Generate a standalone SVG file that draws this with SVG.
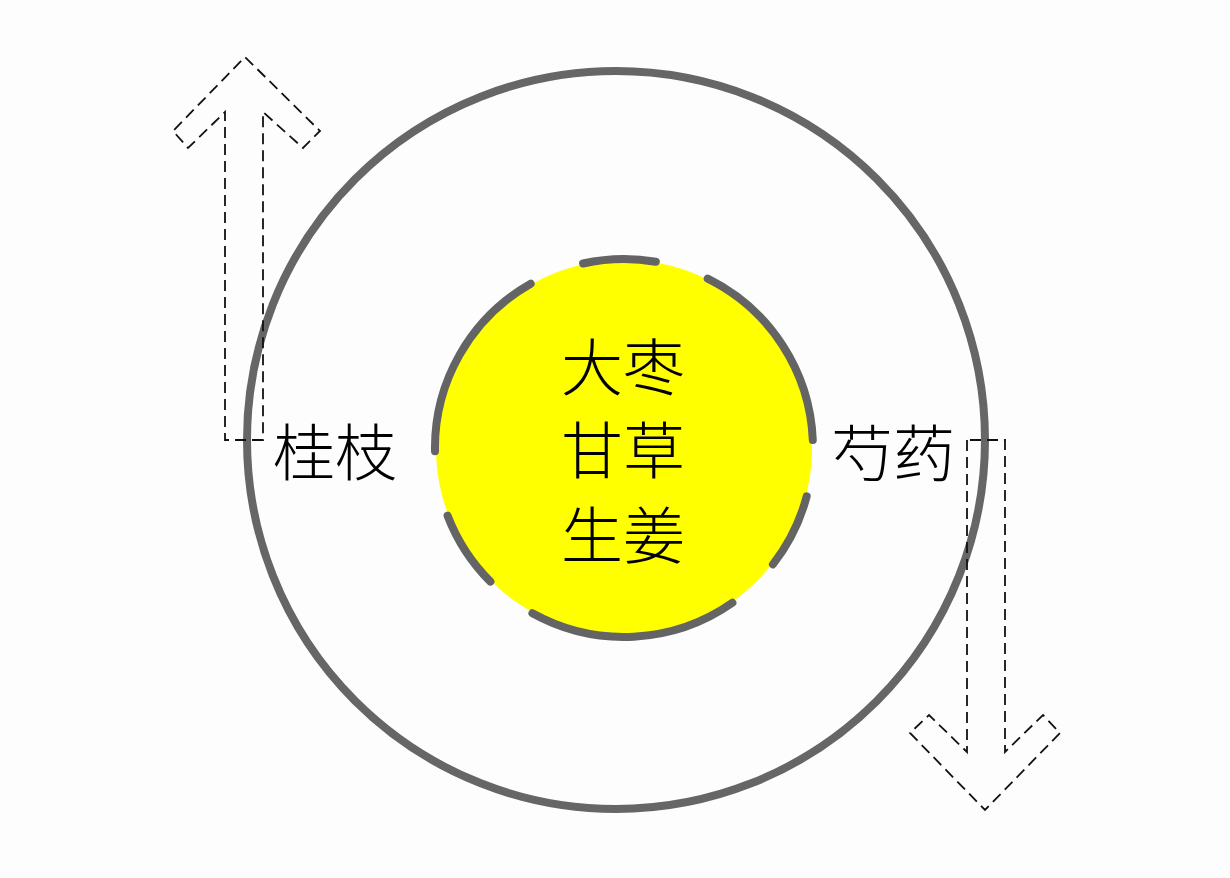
<svg xmlns="http://www.w3.org/2000/svg" width="1230" height="878" viewBox="0 0 1230 878">
<style>
.ring{fill:none;stroke:#666666;stroke-width:8}
.core{fill:#ffff00;stroke:none}
.dash{fill:none;stroke:#646464;stroke-width:8;stroke-linecap:round}
.arrow{fill:none;stroke:#111;stroke-width:1.8;stroke-dasharray:11 6}
.lbl{font-family:"Noto Sans CJK SC","Noto Sans CJK TC",sans-serif;font-size:62px;font-weight:300;fill:#000}
</style>
<rect width="1230" height="878" fill="#fdfdfd"/>
<g id="outer-ring">
<circle class="ring" cx="616" cy="440" r="369"/>
</g>
<g id="connectors">
<path id="arrow-up" class="arrow" d="M263,440 H225 V112 L188,148 L173,131 L245,57 L320,131 L303,148 L263,112 Z"/>
<path id="arrow-down" class="arrow" d="M967,440 V752 L929,715 L910,733 L985,810 L1060,733 L1043,715 L1005,752 V440 Z"/>
</g>
<g id="core">
<circle class="core" cx="624" cy="448" r="188"/>
<path class="dash" d="M583.1,263.5 A189,189 0 0 1 655.8,261.7"/>
<path class="dash" d="M707.7,278.6 A189,189 0 0 1 812.8,440.1"/>
<path class="dash" d="M806.7,496.3 A189,189 0 0 1 772.9,564.4"/>
<path class="dash" d="M732.4,602.8 A189,189 0 0 1 532.4,613.3"/>
<path class="dash" d="M490.4,581.6 A189,189 0 0 1 447.6,515.7"/>
<path class="dash" d="M435.0,451.3 A189,189 0 0 1 530.7,283.7"/>
<text class="lbl" x="623" y="391" text-anchor="middle">大枣</text>
<text class="lbl" x="623" y="474" text-anchor="middle">甘草</text>
<text class="lbl" x="623" y="559" text-anchor="middle">生姜</text>
</g>
<g id="guizhi">
<text class="lbl" x="273" y="476">桂枝</text>
</g>
<g id="shaoyao">
<text class="lbl" x="831" y="477">芍药</text>
</g>
</svg>
